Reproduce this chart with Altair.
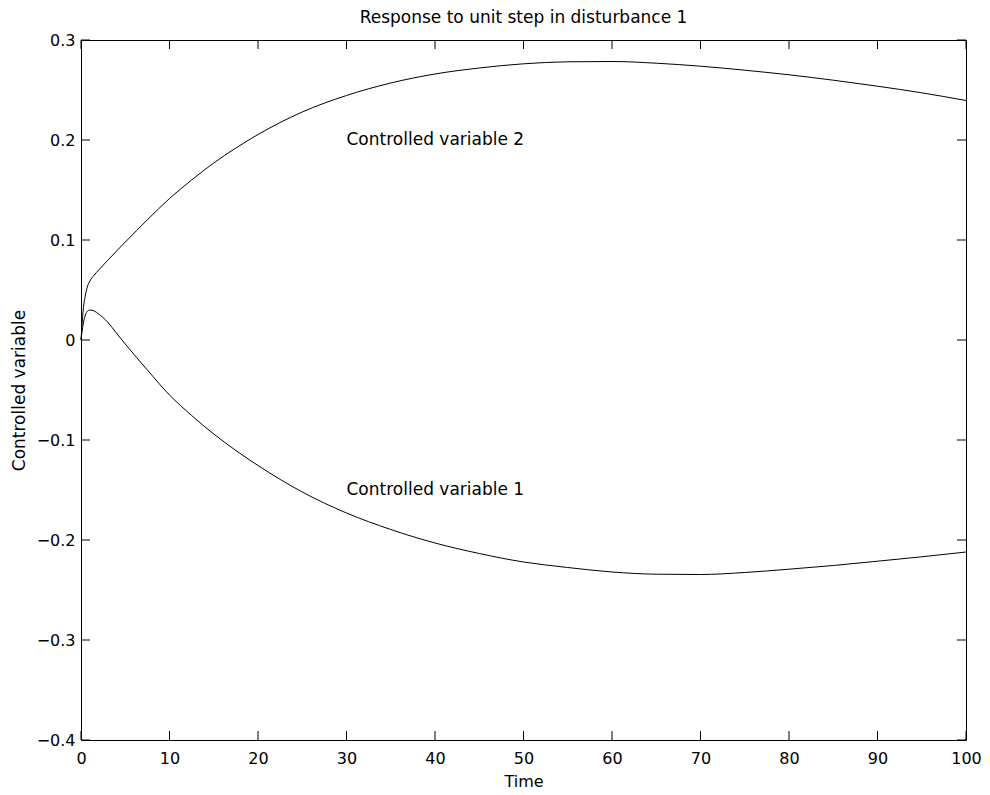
import altair as alt
import pandas as pd

# ---- data ----
time = [0, 0.25, 0.5, 0.75, 1, 1.5, 2, 3, 4, 5, 7.5, 10, 12.5, 15, 17.5, 20,
        25, 30, 35, 40, 45, 50, 55, 60, 65, 70, 75, 80, 85, 90, 95, 100]
cv2 = [0, 0.030, 0.045, 0.054, 0.059, 0.065, 0.070, 0.0795, 0.0888, 0.0979,
       0.1202, 0.1415, 0.160, 0.177, 0.192, 0.2055, 0.228, 0.2445, 0.257,
       0.266, 0.272, 0.2762, 0.2782, 0.2785, 0.2768, 0.2738, 0.2698, 0.2652,
       0.2598, 0.2538, 0.2472, 0.2395]
cv1 = [0, 0.016, 0.025, 0.029, 0.030, 0.029, 0.026, 0.018, 0.007, -0.004,
       -0.030, -0.055, -0.0755, -0.094, -0.1105, -0.1255, -0.152, -0.173,
       -0.1895, -0.203, -0.2135, -0.222, -0.2275, -0.232, -0.2342, -0.2345,
       -0.2325, -0.2292, -0.2255, -0.2212, -0.2168, -0.212]

label_text = ["Controlled variable 2", "Controlled variable 1"]
label_t = [30, 30]
label_v = [0.2, -0.15]

x_ticks = [0, 10, 20, 30, 40, 50, 60, 70, 80, 90, 100]
y_ticks = [-0.4, -0.3, -0.2, -0.1, 0, 0.1, 0.2, 0.3]

FONT = "DejaVu Sans"
W, H = 885, 700
TICK = 9

lines = pd.DataFrame({
    "t": time * 2,
    "v": cv1 + cv2,
    "series": ["Controlled variable 1"] * len(time) + ["Controlled variable 2"] * len(time),
})
labels = pd.DataFrame({"t": label_t, "v": label_v, "text": label_text})
xt = pd.DataFrame({"t": x_ticks})
yt = pd.DataFrame({"v": y_ticks})

xscale = alt.Scale(domain=[0, 100], nice=False, zero=False)
yscale = alt.Scale(domain=[-0.4, 0.3], nice=False, zero=False)

x_axis = alt.Axis(values=x_ticks, ticks=False, domain=False, grid=False,
                  labelFont=FONT, labelFontSize=16, labelColor="black",
                  labelPadding=10, labelFlush=False, labelOverlap=False,
                  titleFont=FONT, titleFontSize=16, titleFontWeight="normal",
                  titleColor="black", titlePadding=7)
y_axis = alt.Axis(values=y_ticks, ticks=False, domain=False, grid=False,
                  labelExpr="datum.value == 0 ? '0' : format(datum.value, '.1f')",
                  labelFont=FONT, labelFontSize=16, labelColor="black",
                  labelPadding=6, labelFlush=False, labelOverlap=False,
                  titleFont=FONT, titleFontSize=17, titleFontWeight="normal",
                  titleColor="black", titlePadding=8)

X = lambda: alt.X("t:Q", scale=xscale, title="Time", axis=x_axis)
Y = lambda: alt.Y("v:Q", scale=yscale, title="Controlled variable", axis=y_axis)

line_layer = alt.Chart(lines).mark_line(
    color="black", strokeWidth=1, interpolate="monotone"
).encode(x=X(), y=Y(), detail="series:N")

text_layer = alt.Chart(labels).mark_text(
    align="left", baseline="middle", font=FONT, fontSize=17, color="black"
).encode(x=X(), y=Y(), text="text:N")

tick_bottom = alt.Chart(xt).mark_rule(color="black", strokeWidth=1).encode(
    x=X(), y=alt.value(H), y2=alt.value(H - TICK))
tick_top = alt.Chart(xt).mark_rule(color="black", strokeWidth=1).encode(
    x=X(), y=alt.value(0), y2=alt.value(TICK))
tick_left = alt.Chart(yt).mark_rule(color="black", strokeWidth=1).encode(
    y=Y(), x=alt.value(0), x2=alt.value(TICK))
tick_right = alt.Chart(yt).mark_rule(color="black", strokeWidth=1).encode(
    y=Y(), x=alt.value(W), x2=alt.value(W - TICK))

chart = alt.layer(
    line_layer, text_layer, tick_bottom, tick_top, tick_left, tick_right
).properties(
    width=W, height=H,
    background="white",
    title=alt.TitleParams("Response to unit step in disturbance 1", font=FONT,
                          fontSize=17, fontWeight="normal", color="black",
                          anchor="middle", offset=5),
    autosize=alt.AutoSizeParams(type="none"),
    padding={"left": 81, "top": 40, "right": 24, "bottom": 55},
).configure_view(
    stroke="black", strokeWidth=1
)

chart.save("out.html", embed_options={"renderer": "svg", "actions": False})
